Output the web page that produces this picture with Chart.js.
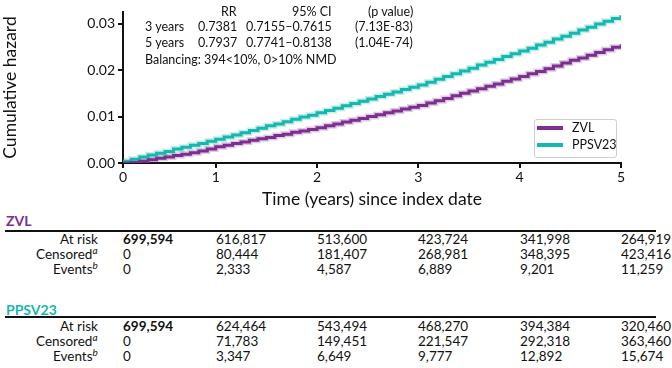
<!DOCTYPE html>
<html><head><meta charset="utf-8">
<script src="https://cdn.jsdelivr.net/npm/chart.js@4"></script>
<style>
body{margin:0;width:672px;height:368px;background:#fff;font-family:Lato,"Open Sans",sans-serif;overflow:hidden;position:relative;color:#111}
#wrap{position:absolute;left:0;top:0;width:672px;height:210px}
.t{position:absolute;white-space:nowrap;line-height:1;color:#111}
.ann{font-size:12.5px}
.lg{font-size:12.5px}
.tb{font-size:13.5px}
.hd{font-size:14px;font-weight:700}
.rule{position:absolute;height:2px;background:#111}
#legend{position:absolute;border:1px solid #cfcfcf;border-radius:3px;background:#fff}
</style></head><body>
<div id="wrap"><canvas id="c" width="672" height="210"></canvas></div>
<div id="over"></div>
<script>
// ---- data ----
const seriesNames = ["ZVL", "PPSV23"];
const seriesColors = ["#7b2f8f", "#16b8ad"];
const bandColors = ["rgba(123,47,143,0.25)", "rgba(22,184,173,0.25)"];
const xTickYears = [0, 1, 2, 3, 4, 5];
const yTickValues = [0.00, 0.01, 0.02, 0.03];
// monthly time grid (years)
const timeYears = Array.from({length: 61}, (_, i) => i / 12);
const zvlHazard = [
 0, 0, 0.0001, 0.0004, 0.0007, 0.0010, 0.0013, 0.0016, 0.0019, 0.0022, 0.0026, 0.0030, 0.0035,
 0.0038, 0.0042, 0.0045, 0.0049, 0.0052, 0.0055, 0.0059, 0.0062, 0.0066, 0.0069, 0.0072, 0.0076,
 0.0080, 0.0084, 0.0088, 0.0092, 0.0096, 0.0100, 0.0104, 0.0108, 0.0112, 0.0116, 0.0120, 0.0124,
 0.0129, 0.0134, 0.0139, 0.0145, 0.0150, 0.0155, 0.0160, 0.0165, 0.0170, 0.0176, 0.0181, 0.0186,
 0.0192, 0.0197, 0.0203, 0.0209, 0.0215, 0.0221, 0.0226, 0.0232, 0.0238, 0.0244, 0.0249, 0.0255
];
const ppsv23Hazard = [
 0, 0.0004, 0.0008, 0.0013, 0.0017, 0.0021, 0.0025, 0.0030, 0.0034, 0.0038, 0.0042, 0.0047, 0.0051,
 0.0056, 0.0060, 0.0065, 0.0070, 0.0075, 0.0080, 0.0084, 0.0089, 0.0094, 0.0099, 0.0103, 0.0108,
 0.0113, 0.0118, 0.0123, 0.0128, 0.0133, 0.0138, 0.0143, 0.0148, 0.0153, 0.0158, 0.0163, 0.0168,
 0.0174, 0.0180, 0.0186, 0.0192, 0.0198, 0.0204, 0.0211, 0.0217, 0.0223, 0.0229, 0.0235, 0.0241,
 0.0247, 0.0254, 0.0260, 0.0267, 0.0273, 0.0279, 0.0286, 0.0292, 0.0299, 0.0305, 0.0311, 0.0318
];
// annotation table
const annHeader = ["RR", "95% CI", "(p value)"];
const annRowLabels = ["3 years", "5 years"];
const annRR = ["0.7381", "0.7937"];
const annCI = ["0.7155\u20130.7615", "0.7741\u20130.8138"];
const annP = ["(7.13E-83)", "(1.04E-74)"];
const annBalancing = "Balancing: 394<10%, 0>10% NMD";
// number at risk tables
const rowLabels = ["At risk", "Censored", "Events"];
const rowSup = ["", "a", "b"];
const zvlAtRisk = ["699,594", "616,817", "513,600", "423,724", "341,998", "264,919"];
const zvlCensored = ["0", "80,444", "181,407", "268,981", "348,395", "423,416"];
const zvlEvents = ["0", "2,333", "4,587", "6,889", "9,201", "11,259"];
const ppsvAtRisk = ["699,594", "624,464", "543,494", "468,270", "394,384", "320,460"];
const ppsvCensored = ["0", "71,783", "149,451", "221,547", "292,318", "363,460"];
const ppsvEvents = ["0", "3,347", "6,649", "9,777", "12,892", "15,674"];

const X_MIN = 0.085; // the reference axis begins slightly after t=0 (its "0" label sits at the axis start)
const pts = arr => arr.map((v, i) => ({x: timeYears[i], y: v}));
const seriesData = [zvlHazard, ppsv23Hazard];

const datasets = [];
seriesData.forEach((d, k) => {
  datasets.push({label: seriesNames[k] + " CI", data: pts(d), borderColor: bandColors[k], borderWidth: 6,
    pointRadius: 0, stepped: true, fill: false, order: 2});
});
seriesData.forEach((d, k) => {
  datasets.push({label: seriesNames[k], data: pts(d), borderColor: seriesColors[k], borderWidth: 3,
    pointRadius: 0, stepped: true, fill: false, order: 1});
});

const axisFont = {family: "Lato", size: 14};
const chart = new Chart(document.getElementById("c"), {
  type: "line",
  data: {datasets},
  options: {
    responsive: false, animation: false, devicePixelRatio: 1,
    layout: {padding: {left: 0, right: 51, top: 12, bottom: 0}},
    plugins: {legend: {display: false}, tooltip: {enabled: false}},
    scales: {
      x: {type: "linear", min: X_MIN, max: 5,
        afterBuildTicks: s => { s.ticks = xTickYears.map(v => ({value: Math.max(v, X_MIN)})); },
        afterFit: s => { s.height = 47; },
        ticks: {font: axisFont, color: "#111", padding: 1, callback: v => String(Math.round(v)), maxRotation: 0},
        grid: {drawOnChartArea: false, drawTicks: true, tickLength: 5, color: "#111", lineWidth: 2},
        border: {display: true, color: "#111", width: 2},
        title: {display: true, text: "Time (years) since index date", font: {family: "Lato", size: 17.5}, color: "#111", padding: {top: 1, bottom: 0}}
      },
      y: {min: 0, max: 0.0325,
        afterBuildTicks: s => { s.ticks = yTickValues.map(v => ({value: v})); },
        afterFit: s => { s.width = 123; },
        ticks: {font: axisFont, color: "#111", padding: 3, callback: v => v.toFixed(2)},
        grid: {drawOnChartArea: false, drawTicks: true, tickLength: 5, color: "#111", lineWidth: 2},
        border: {display: true, color: "#111", width: 2},
        title: {display: true, text: "Cumulative hazard", font: {family: "Lato", size: 17.5}, color: "#111", padding: {top: 0, bottom: 3}}
      }
    }
  }
});

// ---- overlays (real text) ----
const over = document.getElementById("over");
function addText(txt, x, yc, cls, align, color, html) {
  const el = document.createElement("div");
  el.className = "t " + cls;
  if (html) el.innerHTML = txt; else el.textContent = txt;
  if (color) el.style.color = color;
  over.appendChild(el);
  const w = el.offsetWidth, h = el.offsetHeight;
  const left = align === "right" ? x - w : (align === "center" ? x - w / 2 : x);
  el.style.left = left + "px";
  el.style.top = (yc - h / 2) + "px";
  return el;
}
function addRule(x1, x2, y) {
  const el = document.createElement("div");
  el.className = "rule";
  el.style.left = x1 + "px"; el.style.width = (x2 - x1) + "px"; el.style.top = (y - 1) + "px";
  over.appendChild(el);
}

// annotation inside plot
const annY = [12, 27, 43];
addText(annHeader[0], 237, annY[0], "ann", "right");
addText(annHeader[1], 332, annY[0], "ann", "right");
addText(annHeader[2], 413, annY[0], "ann", "right");
for (let r = 0; r < 2; r++) {
  addText(annRowLabels[r], 145, annY[r + 1], "ann", "left");
  addText(annRR[r], 237, annY[r + 1], "ann", "right");
  addText(annCI[r], 332, annY[r + 1], "ann", "right");
  addText(annP[r], 413, annY[r + 1], "ann", "right");
}
addText(annBalancing, 145, 60, "ann", "left");

// legend
const lg = document.createElement("div");
lg.id = "legend";
lg.style.left = "534px"; lg.style.top = "119px"; lg.style.width = "81px"; lg.style.height = "37px";
over.appendChild(lg);
seriesNames.forEach((n, k) => {
  const yc = 128 + k * 17;
  const sw = document.createElement("div");
  sw.style.cssText = `position:absolute;left:537px;top:${yc - 2}px;width:26px;height:4px;background:${seriesColors[k]}`;
  over.appendChild(sw);
  addText(n, 572, yc, "lg", "left");
});

// number-at-risk tables
const xs = chart.scales.x;
const colX = xTickYears.map(v => Math.round(xs.getPixelForValue(Math.max(v, X_MIN))));
function table(name, color, headY, ruleY, rows, rowY) {
  addText(name, 6, headY, "hd", "left", color);
  addRule(5, 656, ruleY);
  rows.forEach((vals, r) => {
    const lbl = rowSup[r] ? `${rowLabels[r]}<sup style="font-style:italic;font-size:10px;line-height:0">${rowSup[r]}</sup>` : rowLabels[r];
    addText(lbl, 98, rowY[r], "tb", "right", null, true);
    vals.forEach((v, c) => {
      const el = addText(v, colX[c], rowY[r], "tb", "left");
      if (r === 0 && c === 0) el.style.fontWeight = "700";
    });
  });
}
table(seriesNames[0], seriesColors[0], 221, 231, [zvlAtRisk, zvlCensored, zvlEvents], [240, 255, 270]);
table(seriesNames[1], seriesColors[1], 310, 317, [ppsvAtRisk, ppsvCensored, ppsvEvents], [327, 342, 357]);
</script>
</body></html>
